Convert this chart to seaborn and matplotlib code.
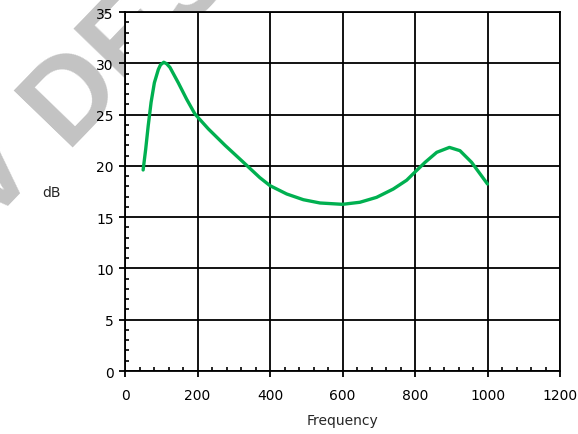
import matplotlib
matplotlib.use("Agg")
import matplotlib.pyplot as plt
import seaborn as sns
import pandas as pd
import numpy as np
from matplotlib.ticker import MultipleLocator

freq = [50, 57, 64, 72, 81, 92, 98, 107, 115, 124, 147, 170, 193, 230, 276,
        322, 372, 400, 446, 492, 538, 600, 648, 694, 740, 777, 800, 828, 860,
        895, 924, 956, 1000]
db = [19.6, 21.6, 23.9, 26.2, 28.1, 29.4, 29.85, 30.1, 29.95, 29.6, 28.1, 26.5,
      25.05, 23.6, 22.0, 20.5, 18.85, 18.07, 17.26, 16.7, 16.38, 16.25, 16.45,
      16.93, 17.74, 18.6, 19.4, 20.35, 21.32, 21.8, 21.48, 20.35, 18.23]

df = pd.DataFrame({"Frequency": freq, "dB": db})

sns.set_style("white")
plt.rcParams["font.family"] = ["DejaVu Sans"]

W, H = 578, 435
fig = plt.figure(figsize=(W / 100, H / 100), dpi=100)
ax = fig.add_axes([125/W, 1-372/H, 435/W, 359/H])

# watermark behind axes
ang = np.deg2rad(46)
ax0, ay0 = 65, 147  # anchor in pixels from top-left
wm = dict(fontsize=86, fontweight="bold", family="Liberation Sans",
          color="#c3c3c3", rotation=46, rotation_mode="anchor",
          va="baseline", zorder=-5)
fig.text(ax0 / W, 1 - ay0 / H, "DESIGN", ha="left", **wm)
back = 33  # width of a space
fig.text((ax0 - back * np.cos(ang)) / W, 1 - (ay0 + back * np.sin(ang)) / H,
         "V", ha="right", **wm)

sns.lineplot(data=df, x="Frequency", y="dB", ax=ax, color="#00b050", linewidth=2.4)

ax.set_xlim(0, 1200)
ax.set_ylim(0, 35)
ax.xaxis.set_major_locator(MultipleLocator(200))
ax.xaxis.set_minor_locator(MultipleLocator(40))
ax.yaxis.set_major_locator(MultipleLocator(5))
ax.yaxis.set_minor_locator(MultipleLocator(1))
ax.grid(True, which="major", color="black", linewidth=1.3)
ax.set_axisbelow(True)
for s in ax.spines.values():
    s.set_color("black")
    s.set_linewidth(1.3)

ax.tick_params(axis="both", which="major", direction="out", length=4, width=1.3,
               color="black", labelsize=10, labelcolor="black", pad=4)
ax.tick_params(axis="x", which="major", pad=8)
ax.tick_params(axis="both", which="minor", direction="in", length=3, width=1.2,
               color="black")
ax.tick_params(left=True, bottom=True, which="both")

ax.set_xlabel("Frequency", fontsize=10, labelpad=8)
ax.set_ylabel("dB", fontsize=10, rotation=0, va="center", ha="center")
ax.yaxis.set_label_coords(-0.17, 0.5)

fig.savefig("out.png", dpi=100)
